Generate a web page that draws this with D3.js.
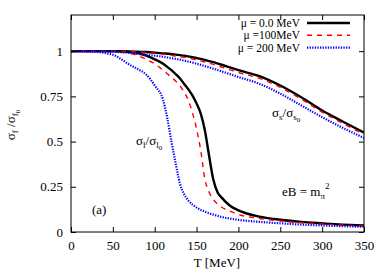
<!DOCTYPE html>
<html><head><meta charset="utf-8">
<script src="https://cdn.jsdelivr.net/npm/d3@7"></script>
<style>body{margin:0;background:#fff}svg{display:block}</style>
</head><body>
<script>
const T = [0,25,50,60,70,80,90,100,110,115,120,125,130,135,140,145,150,155,160,165,170,175,180,190,200,225,250,275,300,325,350];
const light_mu0   = [1,1,1,0.998,0.995,0.99,0.975,0.955,0.93,0.913,0.895,0.873,0.85,0.82,0.79,0.755,0.71,0.655,0.56,0.42,0.29,0.22,0.19,0.145,0.12,0.085,0.068,0.056,0.048,0.041,0.036];
const light_mu100 = [1,1,1,0.996,0.99,0.975,0.955,0.93,0.895,0.875,0.855,0.835,0.81,0.775,0.73,0.66,0.57,0.45,0.29,0.22,0.18,0.155,0.137,0.115,0.097,0.075,0.061,0.051,0.044,0.038,0.033];
const light_mu200 = [1,0.998,0.98,0.955,0.925,0.9,0.87,0.81,0.73,0.63,0.5,0.38,0.27,0.21,0.175,0.152,0.135,0.122,0.112,0.103,0.096,0.089,0.083,0.074,0.067,0.056,0.048,0.041,0.036,0.032,0.029];
const strange_mu0   = [1,1,1,1,0.999,0.997,0.995,0.992,0.988,0.986,0.984,0.981,0.978,0.975,0.971,0.967,0.962,0.957,0.951,0.945,0.939,0.932,0.925,0.91,0.895,0.862,0.81,0.745,0.672,0.61,0.55];
const strange_mu100 = [1,1,1,1,0.998,0.995,0.992,0.988,0.983,0.98,0.977,0.973,0.97,0.966,0.962,0.957,0.952,0.946,0.94,0.934,0.927,0.92,0.912,0.897,0.882,0.85,0.8,0.735,0.663,0.6,0.54];
const strange_mu200 = [1,1,0.997,0.994,0.99,0.985,0.98,0.975,0.969,0.965,0.961,0.957,0.953,0.948,0.943,0.937,0.931,0.924,0.917,0.91,0.903,0.896,0.888,0.873,0.857,0.82,0.765,0.7,0.635,0.575,0.52];
const legendLabels = ["\u03bc = 0.0 MeV","\u03bc =100MeV","\u03bc = 200 MeV"];
const xTicks = [0,50,100,150,200,250,300,350];
const yTicks = [0,0.25,0.5,0.75,1];
const yTickLabels = ["0","0.25","0.5","0.75","1"];

const W=389,H=273, m={l:71,r:25,t:15,b:41};
const FONT="Liberation Serif";
const svg=d3.select("body").append("svg").attr("width",W).attr("height",H).style("font-family",FONT);
const x=d3.scaleLinear().domain([0,350]).range([m.l,W-m.r]);
const y=d3.scaleLinear().domain([0,1.2]).range([H-m.b,m.t]);

const styles=[
  {stroke:"#000",w:2.4,dash:null},
  {stroke:"#ff0000",w:1.4,dash:"5,5"},
  {stroke:"#0000ff",w:2.2,dash:"1.3,1.3"}
];

svg.append("clipPath").attr("id","c").append("rect").attr("x",m.l).attr("y",m.t).attr("width",W-m.r-m.l).attr("height",H-m.b-m.t);
const line=d3.line().x(d=>x(d[0])).y(d=>y(d[1])).curve(d3.curveMonotoneX);
const series=[[light_mu0,0],[light_mu100,1],[light_mu200,2],[strange_mu0,0],[strange_mu100,1],[strange_mu200,2]];
const g=svg.append("g").attr("clip-path","url(#c)");
series.forEach(([v,i])=>{
  const s=styles[i];
  g.append("path").attr("d",line(T.map((t,k)=>[t,v[k]]))).attr("fill","none")
   .attr("stroke",s.stroke).attr("stroke-width",s.w).attr("stroke-dasharray",s.dash);
});

const fs=13;
function styleAxis(a){
  a.attr("font-family",null).attr("font-size",null);
  a.select(".domain").remove();
  a.selectAll("line").attr("stroke","#000");
  a.selectAll("text").style("font-size",fs+"px").style("font-family",FONT).attr("fill","#000");
}
svg.append("g").attr("transform",`translate(0,${H-m.b})`)
  .call(d3.axisBottom(x).tickValues(xTicks).tickSizeInner(-5).tickSizeOuter(0).tickPadding(9)).call(styleAxis);
svg.append("g").attr("transform",`translate(0,${m.t})`)
  .call(d3.axisTop(x).tickValues(xTicks).tickSizeInner(-5).tickSizeOuter(0).tickFormat("")).call(styleAxis);
svg.append("g").attr("transform",`translate(${m.l},0)`)
  .call(d3.axisLeft(y).tickValues(yTicks).tickFormat((d,i)=>yTickLabels[i]).tickSizeInner(-5).tickSizeOuter(0).tickPadding(8)).call(styleAxis);
svg.append("g").attr("transform",`translate(${W-m.r},0)`)
  .call(d3.axisRight(y).tickValues(yTicks).tickSizeInner(-5).tickSizeOuter(0).tickFormat("")).call(styleAxis);
svg.append("rect").attr("x",m.l).attr("y",m.t).attr("width",W-m.r-m.l).attr("height",H-m.b-m.t).attr("fill","none").attr("stroke","#000").attr("stroke-width",1);

// legend
legendLabels.forEach((t,i)=>{
  const yy=23+i*12.3;
  svg.append("text").attr("x",300).attr("y",yy+4).attr("text-anchor","end").style("font-size","11.5px").text(t);
  const s=styles[i];
  svg.append("line").attr("x1",307).attr("x2",350).attr("y1",yy).attr("y2",yy)
    .attr("stroke",s.stroke).attr("stroke-width",s.w).attr("stroke-dasharray",s.dash);
});

// axis titles
svg.append("text").attr("x",217).attr("y",267).attr("text-anchor","middle").style("font-size","13px").text("T [MeV]");
const yl=svg.append("text").attr("transform","translate(15,125) rotate(-90)").attr("text-anchor","middle").style("font-size","13px");
yl.append("tspan").text("\u03c3");
yl.append("tspan").attr("dy",3).style("font-size","9px").text("f");
yl.append("tspan").attr("dy",-3).text(" /\u03c3");
yl.append("tspan").attr("dy",3).style("font-size","9px").text("f");
yl.append("tspan").attr("dy",2).style("font-size","7px").text("0");

// annotations
function ratio(xp,yp,sub){
  const t=svg.append("text").attr("x",xp).attr("y",yp).style("font-size","13px");
  t.append("tspan").text("\u03c3");
  t.append("tspan").attr("dy",3).style("font-size","9px").text(sub);
  t.append("tspan").attr("dy",-3).text("/\u03c3");
  t.append("tspan").attr("dy",3).style("font-size","9px").text(sub);
  t.append("tspan").attr("dy",2).style("font-size","7px").text("0");
}
ratio(136,145,"l");
ratio(272,117,"s");
const eb=svg.append("text").attr("x",282).attr("y",196).style("font-size","13px");
eb.append("tspan").text("eB = m");
eb.append("tspan").attr("dy",3).style("font-size","9px").text("\u03c0");
eb.append("tspan").attr("dy",-10).style("font-size","9px").text("2");
svg.append("text").attr("x",92).attr("y",214).style("font-size","13px").text("(a)");
</script>
</body></html>
